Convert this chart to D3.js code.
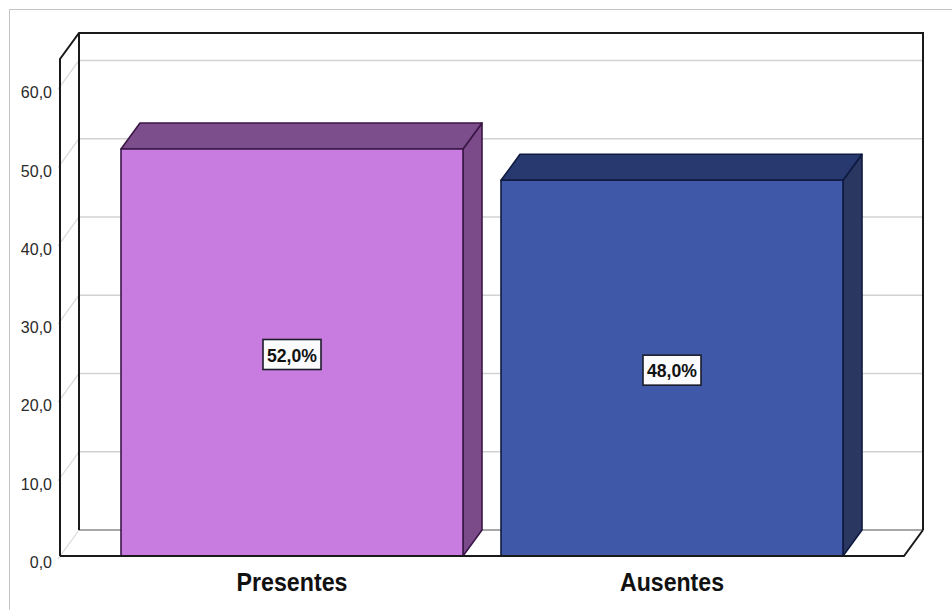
<!DOCTYPE html>
<html>
<head>
<meta charset="utf-8">
<script src="https://cdn.jsdelivr.net/npm/d3@7"></script>
<style>
html,body{margin:0;padding:0;background:#fff;}
svg{display:block;}
</style>
</head>
<body>
<svg id="chart" width="952" height="610"></svg>
<script>
const categories = ["Presentes", "Ausentes"];
const values = [52.0, 48.0];
const valueLabels = ["52,0%", "48,0%"];
const tickValues = [0, 10, 20, 30, 40, 50, 60];
const tickLabels = ["0,0", "10,0", "20,0", "30,0", "40,0", "50,0", "60,0"];
const frontColors = ["#c87ce0", "#3f59a8"];
const topColors = ["#7d4e8c", "#27396f"];
const sideColors = ["#7a4a89", "#293761"];
const edgeColors = ["#3b1747", "#0f1a40"];

const svg = d3.select("#chart");
const dx = 19, dy = -26;
const x0 = 60, x1 = 904;
const yMax = 63.5;
const y = d3.scaleLinear().domain([0, yMax]).range([556, 59]);
const x = d3.scaleBand().domain(categories).range([102, 862]).paddingInner(0.1).paddingOuter(0.05);

// outer frame
svg.append("rect").attr("x", 9.5).attr("y", 9.5).attr("width", 960).attr("height", 620)
  .attr("fill", "none").attr("stroke", "#c4c4c4").attr("stroke-width", 1);

// back wall gridlines
const grid = svg.append("g");
tickValues.filter(t => t > 0).forEach(t => {
  grid.append("line").attr("x1", x0 + dx).attr("x2", x1 + dx)
    .attr("y1", y(t) + dy).attr("y2", y(t) + dy)
    .attr("stroke", "#d2d2d2").attr("stroke-width", 1.5);
});
tickValues.forEach(t => {
  grid.append("line").attr("x1", x0 + dx).attr("y1", y(t) + dy)
    .attr("x2", x0 - 2).attr("y2", y(t) + 3)
    .attr("stroke", "#d8d8d8").attr("stroke-width", 1.2);
});

// floor back edge
svg.append("line").attr("x1", x0 + dx).attr("x2", x1 + dx).attr("y1", y(0) + dy).attr("y2", y(0) + dy)
  .attr("stroke", "#a8a8a8").attr("stroke-width", 2.2);

// walls
const wall = svg.append("g").attr("stroke", "#1a1a1a").attr("stroke-width", 2).attr("fill", "none");
wall.append("polyline").attr("points", [[x0, y(0)], [x0, y(yMax)], [x0 + dx, y(yMax) + dy], [x1 + dx, y(yMax) + dy], [x1 + dx, y(0) + dy]].join(" "));
wall.append("line").attr("x1", x0 + dx).attr("x2", x0 + dx).attr("y1", y(yMax) + dy).attr("y2", y(0) + dy);
wall.append("polyline").attr("points", [[x0, y(0)], [x1, y(0)], [x1 + dx, y(0) + dy]].join(" "));

// bars
const bars = svg.append("g");
categories.forEach((c, i) => {
  const bx0 = x(c), bx1 = x(c) + x.bandwidth();
  const yt = y(values[i]), yb = y(0);
  const g = bars.append("g").attr("stroke", edgeColors[i]).attr("stroke-width", 1.6).attr("stroke-linejoin", "round");
  g.append("polygon").attr("points", [[bx1, yt], [bx1 + dx, yt + dy], [bx1 + dx, yb + dy], [bx1, yb]].join(" "))
    .attr("fill", sideColors[i]);
  g.append("polygon").attr("points", [[bx0, yt], [bx0 + dx, yt + dy], [bx1 + dx, yt + dy], [bx1, yt]].join(" "))
    .attr("fill", topColors[i]);
  g.append("rect").attr("x", bx0).attr("y", yt).attr("width", bx1 - bx0).attr("height", yb - yt)
    .attr("fill", frontColors[i]);
  // label
  const cx = (bx0 + bx1) / 2, cy = (yt + yb) / 2 + 2;
  bars.append("rect").attr("x", cx - 29).attr("y", cy - 15).attr("width", 58).attr("height", 30)
    .attr("fill", "#fbfbfd").attr("stroke", "#1c1c2a").attr("stroke-width", 1.6);
  bars.append("text").attr("x", cx).attr("y", cy + 7).attr("text-anchor", "middle")
    .attr("font-family", "'Liberation Sans', Arial, sans-serif").attr("font-weight", "bold")
    .attr("font-size", 19).attr("textLength", 50).attr("lengthAdjust", "spacingAndGlyphs")
    .attr("fill", "#111").text(valueLabels[i]);
});

// front floor line on top of bars
svg.append("line").attr("x1", x0).attr("x2", x1).attr("y1", y(0)).attr("y2", y(0))
  .attr("stroke", "#1a1a1a").attr("stroke-width", 2);

// y tick labels
svg.append("g").selectAll("text").data(tickValues).join("text")
  .attr("x", 52).attr("y", d => y(d) + 12).attr("text-anchor", "end")
  .attr("font-family", "'Liberation Sans', Arial, sans-serif").attr("font-size", 16)
  .attr("fill", "#2a2a2a").text((d, i) => tickLabels[i]);

// category labels
svg.append("g").selectAll("text").data(categories).join("text")
  .attr("x", d => x(d) + x.bandwidth() / 2).attr("y", 591).attr("text-anchor", "middle")
  .attr("font-family", "'Liberation Sans', Arial, sans-serif").attr("font-weight", "bold")
  .attr("font-size", 26).attr("textLength", d => d === "Presentes" ? 111 : 104)
  .attr("lengthAdjust", "spacingAndGlyphs").attr("fill", "#111").text(d => d);
</script>
</body>
</html>
